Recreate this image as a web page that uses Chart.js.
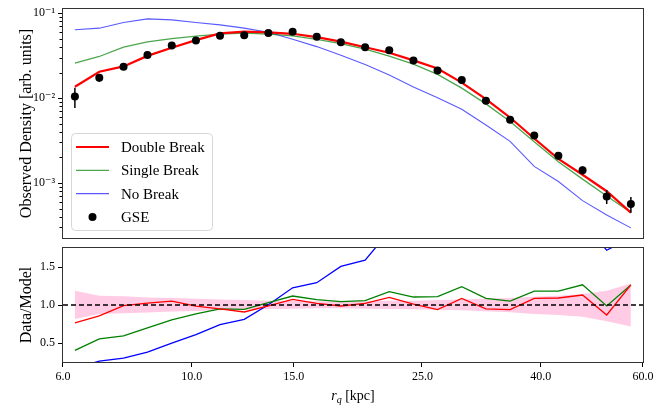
<!DOCTYPE html>
<html>
<head>
<meta charset="utf-8">
<script src="https://cdn.jsdelivr.net/npm/chart.js@4.4.1/dist/chart.umd.min.js"></script>
<style>
html, body { margin: 0; padding: 0; background: #fff; }
#wrap { position: relative; width: 664px; height: 411px; }
canvas { position: absolute; left: 0; }
#top { top: 0; }
#bottom { top: 244px; }
</style>
</head>
<body>
<div id="wrap">
  <canvas id="top" width="664" height="245"></canvas>
  <canvas id="bottom" width="664" height="167"></canvas>
</div>
<script>
// bin centres in kpc
const rq = [6.29, 6.93, 7.63, 8.39, 9.24, 10.17, 11.19, 12.32, 13.56, 14.93, 16.43, 18.08,
            19.91, 21.91, 24.12, 26.54, 29.22, 32.16, 35.40, 38.96, 42.88, 47.20, 51.95, 57.18];

// observed density (GSE) and its errors
const gse = [0.01045, 0.01734, 0.02334, 0.0321, 0.0416, 0.0476, 0.0541, 0.0551, 0.0586, 0.0603, 0.0526, 0.0456,
             0.0398, 0.0367, 0.0277, 0.0211, 0.0163, 0.00929, 0.00556, 0.00363, 0.00210, 0.00141, 0.000695, 0.000566];
const gseErr = [0.0028, 0.0018, 0.0012, 0.0012, 0.0013, 0.0014, 0.0015, 0.0015, 0.0015, 0.0015, 0.0014, 0.0012,
                0.0011, 0.0010, 0.0008, 0.0006, 0.0005, 0.0003, 0.0002, 0.0003, 0.00022, 0.00016, 0.00013, 0.00012];

// model curves
const doubleBreak = [0.0136, 0.0204, 0.0236, 0.0314, 0.0391, 0.0481, 0.0577, 0.0605, 0.0595, 0.0572, 0.0523, 0.0463,
                     0.0397, 0.0342, 0.0278, 0.0223, 0.0152, 0.0097, 0.0059, 0.00334, 0.00192, 0.00125, 0.00080, 0.000447];
const singleBreak = [0.0258, 0.0309, 0.0398, 0.0459, 0.0502, 0.0536, 0.0566, 0.0584, 0.0568, 0.0539, 0.0492, 0.0437,
                     0.0377, 0.0312, 0.0251, 0.0190, 0.0131, 0.00855, 0.00529, 0.00307, 0.00178, 0.00111, 0.000704, 0.000449];
const noBreak = [0.0637, 0.0666, 0.0777, 0.0857, 0.0834, 0.0776, 0.0728, 0.0666, 0.0597, 0.0494, 0.0404, 0.0320,
                 0.0248, 0.0187, 0.0135, 0.0101, 0.00740, 0.00481, 0.00309, 0.00157, 0.00104, 0.00062, 0.00042, 0.000296];

// data / model
const ratioDouble = [0.764, 0.856, 0.991, 1.026, 1.052, 0.985, 0.948, 0.908, 0.99, 1.074, 1.02, 0.987,
                     1.02, 1.10, 1.013, 0.939, 1.087, 0.948, 0.939, 1.087, 1.092, 1.131, 0.869, 1.266];
const ratioSingle = [0.402, 0.555, 0.594, 0.699, 0.803, 0.882, 0.948, 0.943, 1.031, 1.118, 1.070, 1.044,
                     1.057, 1.175, 1.105, 1.109, 1.240, 1.087, 1.052, 1.183, 1.183, 1.266, 0.987, 1.262];
const ratioNone = [0.166, 0.262, 0.301, 0.380, 0.498, 0.611, 0.742, 0.812, 1.004, 1.227, 1.293, 1.507,
                   1.59, 1.97, 2.05, 2.09, 2.2, 1.93, 1.8, 2.31, 2.02, 2.1, 1.72, 1.89];

// uncertainty band
const bandLow = [0.817, 0.882, 0.891, 0.900, 0.913, 0.921, 0.930, 0.939, 0.948, 0.952, 0.956, 0.956,
                 0.952, 0.948, 0.943, 0.939, 0.930, 0.917, 0.904, 0.882, 0.869, 0.847, 0.786, 0.716];
const bandHigh = [1.188, 1.122, 1.114, 1.100, 1.092, 1.083, 1.074, 1.066, 1.057, 1.052, 1.048, 1.044,
                  1.048, 1.057, 1.057, 1.066, 1.074, 1.083, 1.092, 1.109, 1.122, 1.144, 1.188, 1.284];
const unity = 1.0;

const xTicks = [6, 10, 15, 25, 40, 60];
const yTicksTop = [1e-3, 1e-2, 1e-1];
const yTicksBottom = [0.5, 1.0, 1.5];

const serif = "'Liberation Serif', 'DejaVu Serif', serif";
const pts = ys => rq.map((x, i) => ({ x: x, y: ys[i] }));
const supers = { '-': '\u207B', '1': '\u00B9', '2': '\u00B2', '3': '\u00B3' };
const powLabel = v => '10' + String(Math.round(Math.log10(v))).split('').map(c => supers[c] || c).join('');

// minor ticks on the log density axis
const yMinorTop = [];
[1e-4, 1e-3, 1e-2].forEach(d => {
    for (let k = 2; k <= 9; k++) yMinorTop.push(k * d);
});

// keep the plot box exactly where the layout padding puts it
const noPad = s => { s.paddingTop = 0; s.paddingBottom = 0; s.paddingLeft = 0; s.paddingRight = 0; };

const frame = {
    id: 'frame',
    afterDraw(chart) {
        const a = chart.chartArea, ctx = chart.ctx;
        ctx.save();
        ctx.strokeStyle = '#333';
        ctx.lineWidth = 1;
        ctx.strokeRect(a.left - 0.5, a.top - 0.5, a.right - a.left + 1, a.bottom - a.top + 1);
        ctx.restore();
    }
};

const tickMarks = {
    id: 'tickMarks',
    afterDraw(chart, args, opts) {
        const a = chart.chartArea, ctx = chart.ctx;
        const ys = chart.scales.y, xs = chart.scales.x;
        ctx.save();
        ctx.strokeStyle = '#000';
        ctx.lineWidth = 1;
        const hTick = (v, len) => {
            if (v < ys.min || v > ys.max) return;
            const p = Math.round(ys.getPixelForValue(v)) + 0.5;
            ctx.beginPath(); ctx.moveTo(a.left - 1 - len, p); ctx.lineTo(a.left - 1, p); ctx.stroke();
        };
        (opts.yMajor || []).forEach(v => hTick(v, 4));
        (opts.yMinor || []).forEach(v => hTick(v, 2.5));
        (opts.xMajor || []).forEach(v => {
            const p = Math.round(xs.getPixelForValue(v)) - 0.5;
            ctx.beginPath(); ctx.moveTo(p, a.bottom + 1); ctx.lineTo(p, a.bottom + 5); ctx.stroke();
        });
        ctx.restore();
    }
};

const errorBars = {
    id: 'errorBars',
    afterDatasetsDraw(chart) {
        const ctx = chart.ctx, xs = chart.scales.x, ys = chart.scales.y;
        ctx.save();
        ctx.strokeStyle = '#000';
        ctx.lineWidth = 1.5;
        rq.forEach((x, i) => {
            const px = xs.getPixelForValue(x);
            ctx.beginPath();
            ctx.moveTo(px, ys.getPixelForValue(gse[i] + gseErr[i]));
            ctx.lineTo(px, ys.getPixelForValue(gse[i] - gseErr[i]));
            ctx.stroke();
        });
        ctx.restore();
    }
};

const legendBox = {
    id: 'legendBox',
    afterDraw(chart) {
        const ctx = chart.ctx;
        const bx = 71.5, by = 133.5, bw = 141, bh = 97, r = 4;
        ctx.save();
        ctx.beginPath();
        ctx.moveTo(bx + r, by);
        ctx.lineTo(bx + bw - r, by);
        ctx.quadraticCurveTo(bx + bw, by, bx + bw, by + r);
        ctx.lineTo(bx + bw, by + bh - r);
        ctx.quadraticCurveTo(bx + bw, by + bh, bx + bw - r, by + bh);
        ctx.lineTo(bx + r, by + bh);
        ctx.quadraticCurveTo(bx, by + bh, bx, by + bh - r);
        ctx.lineTo(bx, by + r);
        ctx.quadraticCurveTo(bx, by, bx + r, by);
        ctx.closePath();
        ctx.fillStyle = 'rgba(255,255,255,0.8)';
        ctx.fill();
        ctx.strokeStyle = '#d6d6d6';
        ctx.lineWidth = 1;
        ctx.stroke();

        ctx.font = '15px ' + serif;
        ctx.textBaseline = 'middle';
        ctx.textAlign = 'left';
        chart.data.datasets.forEach((ds, i) => {
            const y = 147 + i * 23.3;
            if (ds.showLine === false) {
                ctx.fillStyle = '#000';
                ctx.beginPath(); ctx.arc(92.5, y, 4, 0, Math.PI * 2); ctx.fill();
            } else {
                ctx.strokeStyle = ds.borderColor;
                ctx.lineWidth = ds.borderWidth;
                ctx.beginPath(); ctx.moveTo(76, y); ctx.lineTo(109, y); ctx.stroke();
            }
            ctx.fillStyle = '#000';
            ctx.fillText(ds.label, 121, y + 1);
        });
        ctx.restore();
    }
};

const xTitle = {
    id: 'xTitle',
    afterDraw(chart) {
        const ctx = chart.ctx, a = chart.chartArea;
        const y = 156;
        ctx.save();
        ctx.fillStyle = '#000';
        ctx.textBaseline = 'alphabetic';
        ctx.textAlign = 'left';
        const fR = 'italic 14px ' + serif, fQ = 'italic 10px ' + serif, fK = '14px ' + serif;
        ctx.font = fR; const wR = ctx.measureText('r').width;
        ctx.font = fQ; const wQ = ctx.measureText('q').width;
        ctx.font = fK; const wK = ctx.measureText(' [kpc]').width;
        let x = (a.left + a.right) / 2 - (wR + wQ + wK) / 2;
        ctx.font = fR; ctx.fillText('r', x, y); x += wR;
        ctx.font = fQ; ctx.fillText('q', x, y + 3); x += wQ;
        ctx.font = fK; ctx.fillText(' [kpc]', x, y);
        ctx.restore();
    }
};

const tickFont = { family: serif, size: 12 };
const titleFont = { family: serif, size: 16 };

new Chart(document.getElementById('top'), {
    type: 'line',
    data: {
        datasets: [
            { label: 'Double Break', data: pts(doubleBreak), borderColor: '#ff0000', borderWidth: 2.2, pointRadius: 0, order: 1 },
            { label: 'Single Break', data: pts(singleBreak), borderColor: 'rgba(0,128,0,0.7)', borderWidth: 1.3, pointRadius: 0, order: 2 },
            { label: 'No Break', data: pts(noBreak), borderColor: 'rgba(0,0,255,0.65)', borderWidth: 1.1, pointRadius: 0, order: 3 },
            { label: 'GSE', data: pts(gse), showLine: false, pointRadius: 4, pointBackgroundColor: '#000',
              pointBorderWidth: 0, borderColor: '#000', order: 0 }
        ]
    },
    options: {
        responsive: false,
        animation: false,
        devicePixelRatio: 1,
        layout: { padding: { top: 9, right: 21, bottom: 7, left: 0 } },
        plugins: {
            legend: { display: false },
            tooltip: { enabled: false },
            tickMarks: { yMajor: yTicksTop, yMinor: yMinorTop }
        },
        scales: {
            x: { type: 'logarithmic', min: 6, max: 60, display: false },
            y: {
                type: 'logarithmic', min: 2.25e-4, max: 0.112,
                grid: { display: false, drawTicks: false },
                border: { display: false },
                afterBuildTicks: s => { s.ticks = yTicksTop.map(v => ({ value: v })); },
                afterFit: s => { s.width = 63; noPad(s); },
                ticks: { font: tickFont, color: '#000', padding: 8, callback: v => powLabel(v) },
                title: { display: true, text: 'Observed Density [arb. units]', font: titleFont, color: '#000',
                         padding: { top: 17, bottom: 0 } }
            }
        }
    },
    plugins: [frame, tickMarks, errorBars, legendBox]
});

new Chart(document.getElementById('bottom'), {
    type: 'line',
    data: {
        datasets: [
            { label: 'band low', data: pts(bandLow), borderWidth: 0, pointRadius: 0, fill: false, order: 10 },
            { label: 'band high', data: pts(bandHigh), borderWidth: 0, pointRadius: 0,
              backgroundColor: 'rgba(255,105,180,0.35)', fill: '-1', order: 9 },
            { label: 'No Break', data: pts(ratioNone), borderColor: '#0000ff', borderWidth: 1.3, pointRadius: 0, order: 4 },
            { label: 'Single Break', data: pts(ratioSingle), borderColor: '#008000', borderWidth: 1.3, pointRadius: 0, order: 3 },
            { label: 'Double Break', data: pts(ratioDouble), borderColor: '#ff0000', borderWidth: 1.3, pointRadius: 0, order: 2 },
            { label: 'unity', data: [{ x: 6, y: unity }, { x: 60, y: unity }], borderColor: '#000', borderWidth: 1.5,
              borderDash: [5, 3], pointRadius: 0, order: 0 }
        ]
    },
    options: {
        responsive: false,
        animation: false,
        devicePixelRatio: 1,
        layout: { padding: { top: 4, right: 21, bottom: 0, left: 0 } },
        plugins: {
            legend: { display: false },
            tooltip: { enabled: false },
            tickMarks: { yMajor: yTicksBottom, xMajor: xTicks }
        },
        scales: {
            x: {
                type: 'logarithmic', min: 6, max: 60,
                grid: { display: false, drawTicks: false },
                border: { display: false },
                afterBuildTicks: s => { s.ticks = xTicks.map(v => ({ value: v })); },
                afterFit: s => { s.height = 49; noPad(s); },
                ticks: { font: tickFont, color: '#000', padding: 8, maxRotation: 0, autoSkip: false,
                         callback: v => Number(v).toFixed(1) }
            },
            y: {
                type: 'linear', min: 0.25, max: 1.75,
                grid: { display: false, drawTicks: false },
                border: { display: false },
                afterBuildTicks: s => { s.ticks = yTicksBottom.map(v => ({ value: v })); },
                afterFit: s => { s.width = 63; noPad(s); },
                ticks: { font: tickFont, color: '#000', padding: 8, callback: v => Number(v).toFixed(1) },
                title: { display: true, text: 'Data/Model', font: titleFont, color: '#000',
                         padding: { top: 17, bottom: 0 } }
            }
        }
    },
    plugins: [frame, tickMarks, xTitle]
});
</script>
</body>
</html>
